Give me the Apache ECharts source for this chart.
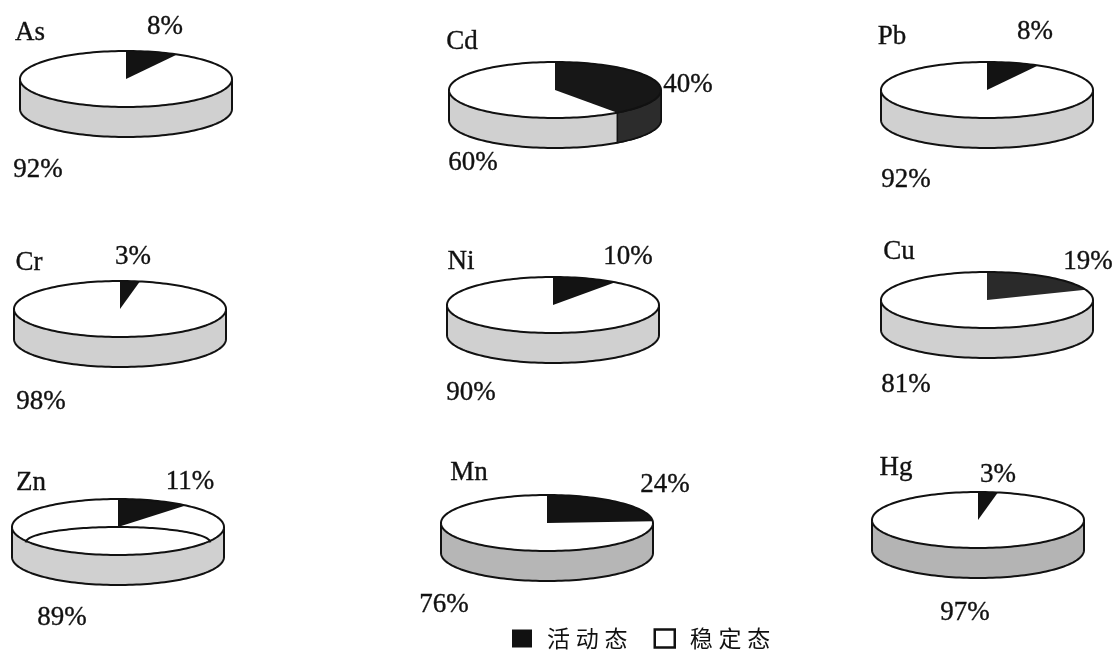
<!DOCTYPE html>
<html>
<head>
<meta charset="utf-8">
<script src="https://cdn.jsdelivr.net/npm/echarts@6/dist/echarts.min.js"></script>
<style>
  html, body { margin: 0; padding: 0; background: #fff; }
  #chart { width: 1116px; height: 651px; }
</style>
</head>
<body>
<div id="chart"></div>
<script>
// Share of each element's active vs. stable fraction (%)
const elements = ['As', 'Cd', 'Pb', 'Cr', 'Ni', 'Cu', 'Zn', 'Mn', 'Hg'];
const activeShare = [8, 40, 8, 3, 10, 19, 11, 24, 3];
const stableShare = [92, 60, 92, 98, 90, 81, 89, 76, 97];
const legendNames = ['活动态', '稳定态'];

// Placement and styling of each disc (centre, label anchors, colours)
const pieLayout = [
  { c: [126, 79],  name: [30, 33],  act: [165, 27],  stab: [38, 170],  wall: '#d0d0d0', wedge: '#131313', side: '#2c2c2c' },
  { c: [555, 90],  name: [462, 42], act: [688, 85],  stab: [473, 163], wall: '#d0d0d0', wedge: '#171717', side: '#2c2c2c' },
  { c: [987, 90],  name: [892, 37], act: [1035, 32], stab: [906, 180], wall: '#d0d0d0', wedge: '#131313', side: '#2c2c2c' },
  { c: [120, 309], name: [29, 263], act: [133, 257], stab: [41, 402],  wall: '#d0d0d0', wedge: '#131313', side: '#2c2c2c' },
  { c: [553, 305], name: [461, 262], act: [628, 257], stab: [471, 393], wall: '#d0d0d0', wedge: '#131313', side: '#2c2c2c' },
  { c: [987, 300], name: [899, 252], act: [1088, 262], stab: [906, 385], wall: '#d0d0d0', wedge: '#2a2a2a', side: '#2c2c2c' },
  { c: [118, 527], name: [31, 483], act: [190, 482], stab: [62, 618],  wall: '#d0d0d0', wedge: '#131313', side: '#2c2c2c', hollow: true },
  { c: [547, 523], name: [469, 473], act: [665, 485], stab: [444, 605], wall: '#b6b6b6', wedge: '#131313', side: '#2c2c2c' },
  { c: [978, 520], name: [896, 468], act: [998, 475], stab: [965, 613], wall: '#b4b4b4', wedge: '#131313', side: '#2c2c2c' }
];

const RX = 106, RY = 28, DEPTH = 30;
const LABEL_FONT = '27px "Liberation Serif", "Times New Roman", serif';
const INK = '#111';

// point on the top ellipse, angle measured clockwise from 12 o'clock
function ellPt(cx, cy, deg, rx, ry) {
  const r = deg * Math.PI / 180;
  return [cx + (rx || RX) * Math.sin(r), cy - (ry || RY) * Math.cos(r)];
}
function arcPts(cx, cy, a0, a1, rx, ry) {
  const pts = [];
  const n = Math.max(2, Math.ceil(Math.abs(a1 - a0) / 2));
  for (let k = 0; k <= n; k++) pts.push(ellPt(cx, cy, a0 + (a1 - a0) * k / n, rx, ry));
  return pts;
}
function wallPts(cx, cy, a0, a1) {
  return arcPts(cx, cy, a0, a1).concat(arcPts(cx, cy + DEPTH, a0, a1).reverse());
}
function textEl(x, y, str) {
  return {
    type: 'text',
    style: {
      x: x, y: y, text: str, font: LABEL_FONT, fill: INK,
      stroke: INK, lineWidth: 0.35,
      align: 'center', verticalAlign: 'middle'
    }
  };
}

// stable fraction: grey wall, white top sector, outlines, labels
function renderStable(params, api) {
  const i = api.value(0), share = api.value(1);
  const L = pieLayout[i];
  const cx = L.c[0], cy = L.c[1];
  const start = 360 - share * 3.6;
  const kids = [];
  const w0 = Math.max(90, start), w1 = 270;
  if (w1 > w0) {
    kids.push({ type: 'polygon', shape: { points: wallPts(cx, cy, w0, w1) }, style: { fill: L.wall, stroke: null } });
  }
  // wall outline: left edge, bottom front arc, right edge
  const outline = [[cx - RX, cy]].concat(arcPts(cx, cy + DEPTH, 270, 90)).concat([[cx + RX, cy]]);
  kids.push({ type: 'polyline', shape: { points: outline }, style: { fill: null, stroke: INK, lineWidth: 2 } });
  kids.push({ type: 'polygon', shape: { points: [[cx, cy]].concat(arcPts(cx, cy, start, 360)) }, style: { fill: '#fff', stroke: null } });
  if (L.hollow) {
    kids.push({ type: 'polyline', shape: { points: arcPts(cx, cy + RY * 0.55, -90, 90, RX * 0.87, RY * 0.55) }, style: { fill: null, stroke: INK, lineWidth: 2 } });
  }
  kids.push(textEl(L.name[0], L.name[1], elements[i]));
  kids.push(textEl(L.stab[0], L.stab[1], share + '%'));
  return { type: 'group', children: kids };
}

// active fraction: dark wedge, its visible wall part, rim outline, label
function renderActive(params, api) {
  const i = api.value(0), share = api.value(1);
  const L = pieLayout[i];
  const cx = L.c[0], cy = L.c[1];
  const end = share * 3.6;
  const kids = [];
  if (end > 90) {
    const w1 = Math.min(270, end);
    kids.push({ type: 'polygon', shape: { points: wallPts(cx, cy, 90, w1) }, style: { fill: L.side, stroke: INK, lineWidth: 1.5 } });
  }
  kids.push({ type: 'polygon', shape: { points: [[cx, cy]].concat(arcPts(cx, cy, 0, end)) }, style: { fill: L.wedge, stroke: null } });
  kids.push({ type: 'polygon', shape: { points: arcPts(cx, cy, 0, 360) }, style: { fill: null, stroke: INK, lineWidth: 2 } });
  kids.push(textEl(L.act[0], L.act[1], share + '%'));
  return { type: 'group', children: kids };
}

const chart = echarts.init(document.getElementById('chart'), null, { renderer: 'canvas' });
chart.setOption({
  animation: false,
  backgroundColor: '#fff',
  legend: {
    left: 512,
    top: 627,
    padding: 0,
    icon: 'rect',
    itemWidth: 20,
    itemHeight: 18,
    itemGap: 26,
    selectedMode: false,
    data: [
      { name: legendNames[0], itemStyle: { color: '#111' } },
      { name: legendNames[1], itemStyle: { color: '#fff', borderColor: '#111', borderWidth: 2.5 } }
    ],
    formatter: function (name) { return name.split('').join('\u2005'); },
    textStyle: { fontFamily: '"Noto Sans CJK SC", sans-serif', fontSize: 23, color: '#111', padding: [0, 0, 0, 10] }
  },
  series: [
    {
      name: legendNames[1],
      type: 'custom',
      coordinateSystem: 'none',
      z: 2,
      itemStyle: { color: '#fff', borderColor: '#111' },
      renderItem: renderStable,
      data: stableShare.map(function (v, i) { return [i, v]; })
    },
    {
      name: legendNames[0],
      type: 'custom',
      coordinateSystem: 'none',
      z: 3,
      itemStyle: { color: '#111' },
      renderItem: renderActive,
      data: activeShare.map(function (v, i) { return [i, v]; })
    }
  ]
});
</script>
</body>
</html>
